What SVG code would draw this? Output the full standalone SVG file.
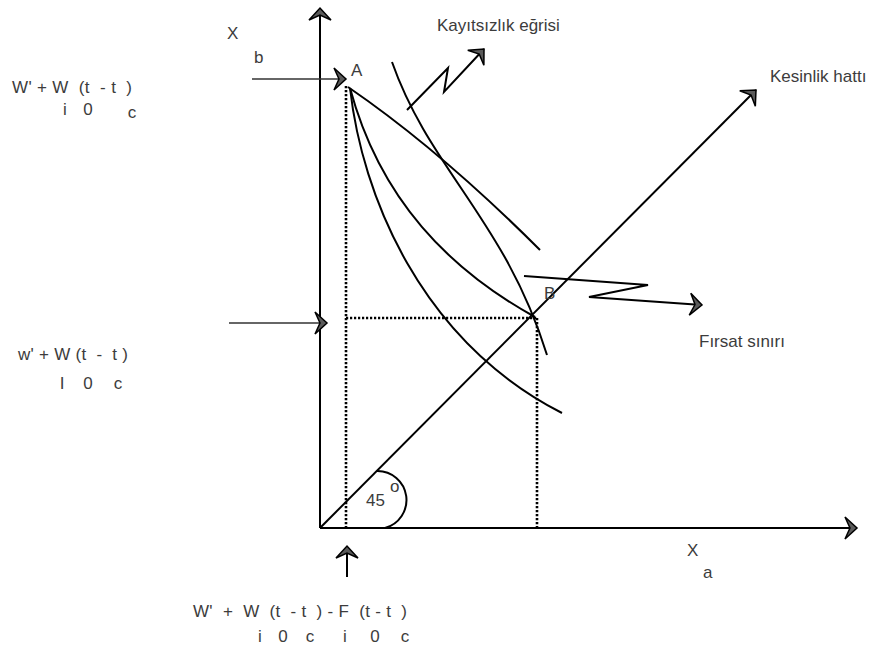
<svg xmlns="http://www.w3.org/2000/svg" width="872" height="648" viewBox="0 0 872 648">
<style>
text{font-family:"Liberation Sans",Arial,sans-serif;fill:#3c3c3c;font-size:17px}
.sub{text-anchor:middle}
.ln{fill:none;stroke:#000;stroke-width:2}
.thin{fill:none;stroke:#333;stroke-width:1.3}
.dot{fill:none;stroke:#000;stroke-width:2.6;stroke-dasharray:2.2,1.8}
</style>
<defs>
<marker id="ah" viewBox="0 0 13 22" refX="12" refY="11" markerWidth="13" markerHeight="22" markerUnits="userSpaceOnUse" orient="auto" overflow="visible">
<path d="M0,0 L12,11 L0,22 L5,11 z" fill="#5a5a5a" stroke="#000" stroke-width="1.5" stroke-linejoin="miter"/>
</marker>
</defs>
<rect width="872" height="648" fill="#fff"/>
<g id="connectors">
<line class="ln" x1="320" y1="528" x2="320" y2="8" marker-end="url(#ah)"/>
<line class="ln" x1="320" y1="528" x2="857" y2="528" stroke="#222" stroke-width="2.5" marker-end="url(#ah)"/>
<line class="ln" x1="320" y1="528" x2="756" y2="90" marker-end="url(#ah)"/>
<line class="thin" x1="252" y1="79" x2="346" y2="79" marker-end="url(#ah)"/>
<line class="thin" x1="229" y1="323" x2="327" y2="323" marker-end="url(#ah)"/>
<line class="ln" x1="347" y1="577" x2="347" y2="546" marker-end="url(#ah)"/>
<polyline class="ln" points="407,110 448,68 444,92 484,49" marker-end="url(#ah)"/>
<polyline class="ln" points="524,276 648,285 589,297 702,305" marker-end="url(#ah)"/>
<path class="dot" d="M346,86 V528 M346,318 H537 M537,318 V528"/>
<path class="ln" d="M348,87 Q440,150 540,250"/>
<path class="ln" d="M392,62 C430,170 505,220 547,355"/>
<path class="ln" d="M350,88 C380,200 450,270 535,317"/>
<path class="ln" d="M350,88 C362,195 420,340 562,413"/>
<path class="ln" d="M377,471 A29,29 0 0 1 385,528"/>
</g>
<g id="labels">
<text x="227" y="39">X</text>
<text x="254" y="63">b</text>
<text x="351" y="76">A</text>
<text x="544" y="299">B</text>
<text x="437" y="31">Kayıtsızlık eğrisi</text>
<text x="770" y="82">Kesinlik hattı</text>
<text x="699" y="347">Fırsat sınırı</text>
<text x="366" y="506">45</text>
<text x="390" y="492" font-size="15">o</text>
<text x="687" y="556">X</text>
<text x="703" y="578">a</text>
<text x="12" y="93" xml:space="preserve" textLength="120" lengthAdjust="spacing">W' + W  (t  - t  )</text>
<text class="sub" x="65" y="115">i</text>
<text class="sub" x="88" y="115">0</text>
<text class="sub" x="132" y="118" font-size="20">c</text>
<text x="18" y="360" xml:space="preserve" textLength="110" lengthAdjust="spacing">w' + W (t  -  t )</text>
<text class="sub" x="62" y="389">I</text>
<text class="sub" x="88" y="389">0</text>
<text class="sub" x="118" y="389">c</text>
<text x="193" y="617" xml:space="preserve" textLength="214" lengthAdjust="spacing">W'  +  W  (t  - t  ) - F  (t - t  )</text>
<text class="sub" x="260" y="642">i</text>
<text class="sub" x="283" y="642">0</text>
<text class="sub" x="310" y="642">c</text>
<text class="sub" x="345" y="642">i</text>
<text class="sub" x="375" y="642">0</text>
<text class="sub" x="405" y="642">c</text>
</g>
</svg>
